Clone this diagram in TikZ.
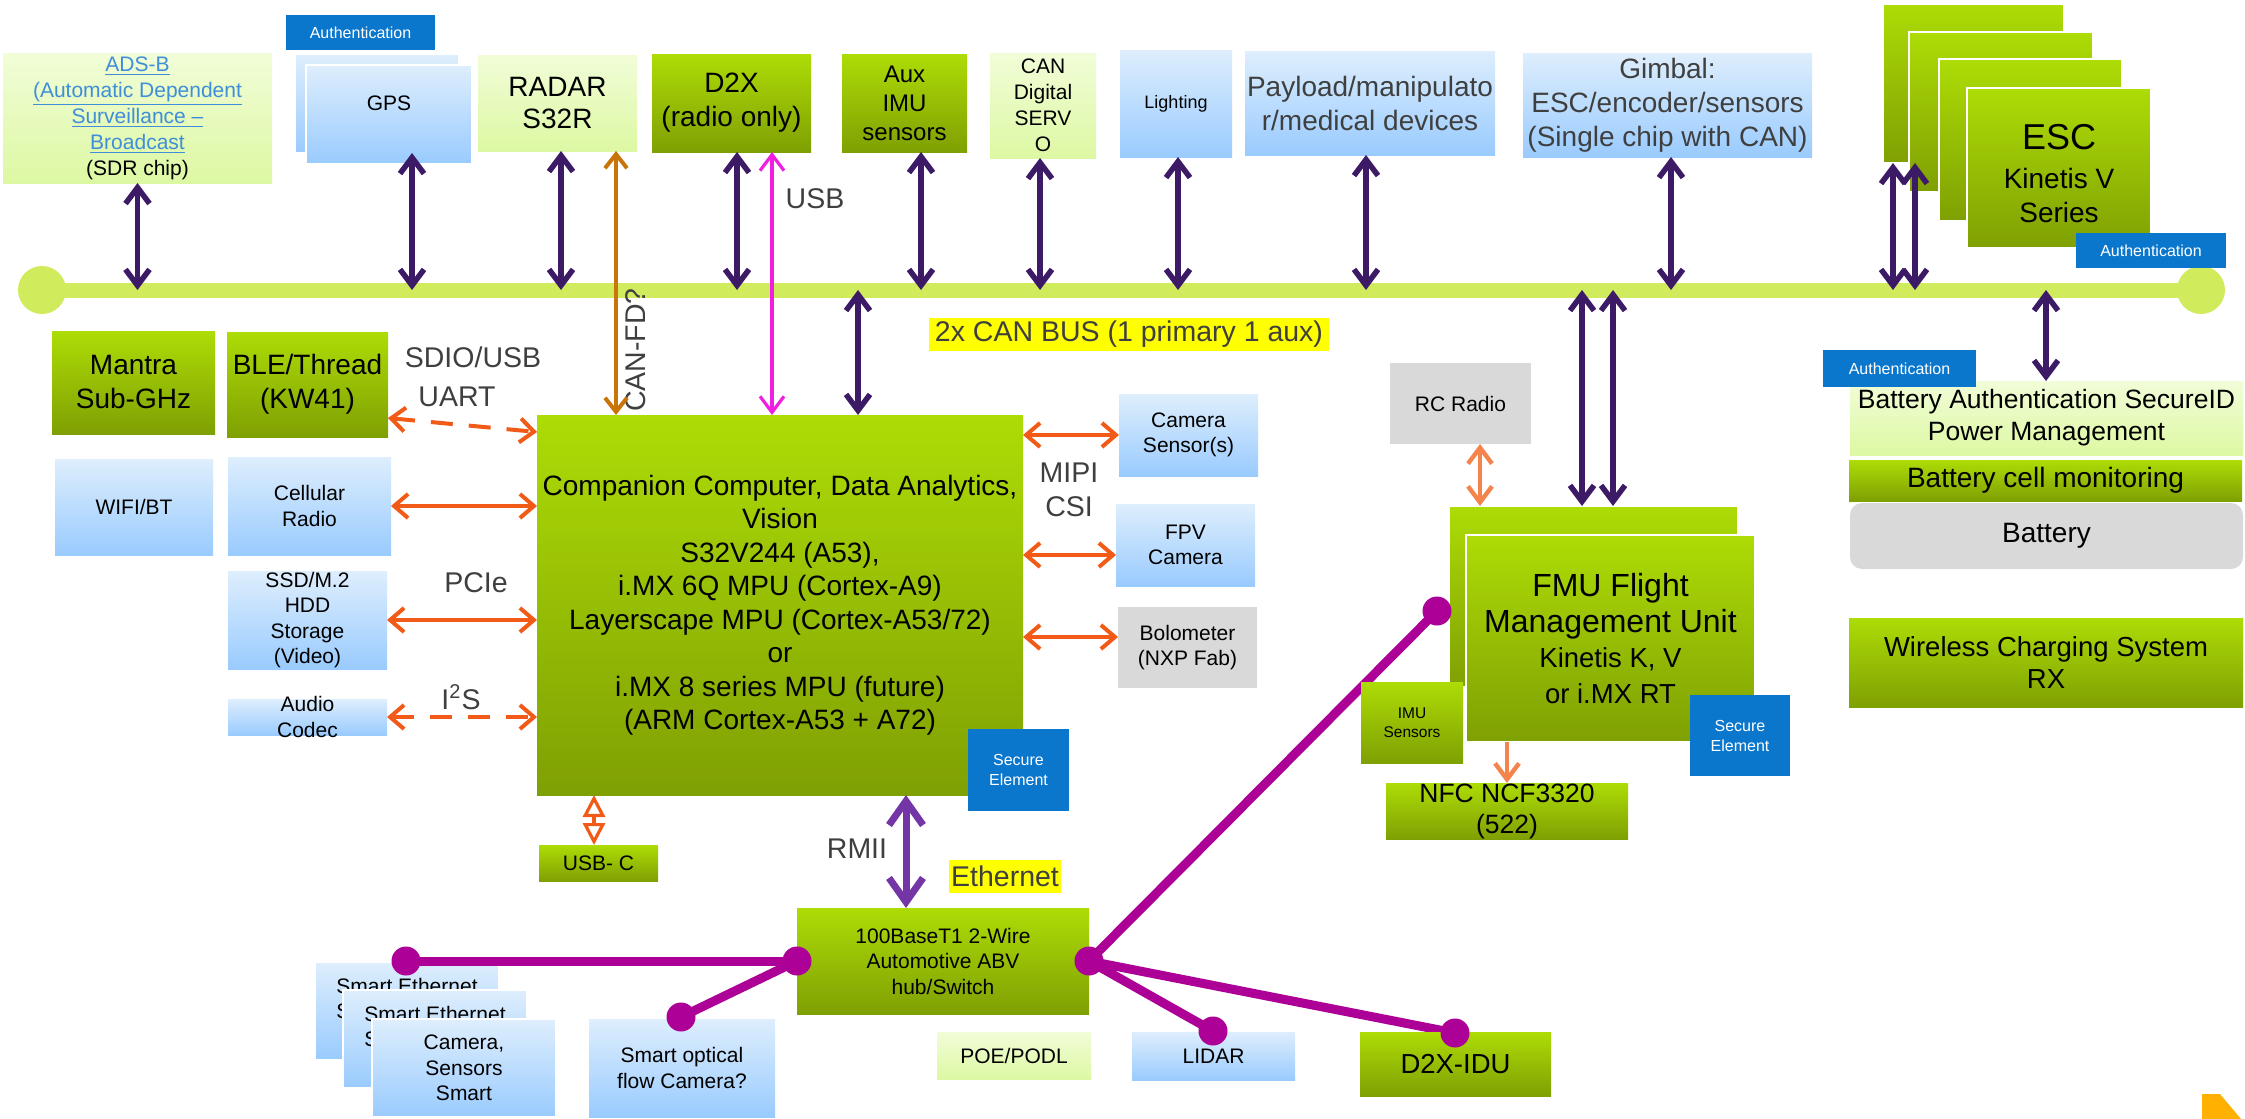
\documentclass[tikz,border=0pt]{standalone}
\usepackage{fontspec}
\setmainfont{Liberation Sans}
\usetikzlibrary{arrows.meta}
\pgfdeclarelayer{bg}
\pgfsetlayers{bg,main}
\definecolor{gTop}{HTML}{ADDC06}
\definecolor{gBot}{HTML}{7FA003}
\definecolor{pgTop}{HTML}{F1FDD8}
\definecolor{pgBot}{HTML}{DDF8A3}
\definecolor{bTop}{HTML}{DEEEFD}
\definecolor{bBot}{HTML}{99CBFE}
\definecolor{grayb}{HTML}{D9D9D9}
\definecolor{authc}{HTML}{0A77CD}
\definecolor{busc}{HTML}{D0EB5C}
\definecolor{purp}{HTML}{3C1A66}
\definecolor{oared}{HTML}{F25A17}
\definecolor{canfdc}{HTML}{C97408}
\definecolor{usbm}{HTML}{F01EE0}
\definecolor{rmiic}{HTML}{7435A6}
\definecolor{coral}{HTML}{F5844C}
\definecolor{ethc}{HTML}{AC0097}
\definecolor{linkc}{HTML}{3E8EDA}
\definecolor{tgray}{HTML}{3F3F3F}
\definecolor{yel}{HTML}{FFFF00}
\definecolor{logoc}{HTML}{FFB000}
\newcommand\lnkt[1]{\textcolor{linkc}{\underline{#1}}}
\newcommand\mkbox[8]{%
  \pgfmathsetmacro\bxw{(#6-#4)*0.5}%
  \pgfmathsetmacro\bxh{(#7-#5)*0.5}%
  \pgfmathsetmacro\bxx{(#4+#6)/2}%
  \pgfmathsetmacro\bxy{(#5+#7)/2}%
  \node[#2, minimum width=\bxw pt, minimum height=\bxh pt] (#1) at (\bxx,\bxy) {};
  \node[txt,#3] (#1t) at (#1.center) {#8};}
\tikzset{
  txt/.style={inner sep=0pt, outer sep=0pt, align=center, text=black},
  bx/.style={inner sep=0pt, outer sep=0pt, draw=none},
  gbox/.style={bx, top color=gTop, bottom color=gBot},
  pgbox/.style={bx, top color=pgTop, bottom color=pgBot},
  bbox/.style={bx, top color=bTop, bottom color=bBot},
  graybox/.style={bx, fill=grayb},
  authbox/.style={bx, fill=authc},
  ybox/.style={bx, fill=yel},
  wb/.style={draw=white, line width=1pt},
  fS/.style={font=\fontsize{10.5}{12.75}\selectfont},
  fSt/.style={font=\fontsize{10.5}{13}\selectfont},
  fXS/.style={font=\fontsize{9}{11}\selectfont},
  fM/.style={font=\fontsize{12}{14.5}\selectfont},
  fL/.style={font=\fontsize{14}{17}\selectfont},
  fLn/.style={font=\fontsize{14}{16}\selectfont},
  fC/.style={font=\fontsize{14}{16.75}\selectfont},
  fLab/.style={font=\fontsize{14.25}{17}\selectfont, text=tgray},
  fA/.style={font=\fontsize{8}{9.5}\selectfont, text=white},
  fSE/.style={font=\fontsize{8}{10}\selectfont, text=white},
  fIMU/.style={font=\fontsize{7.75}{9.5}\selectfont},
  fBA/.style={font=\fontsize{13.25}{16}\selectfont},
  fNFC/.style={font=\fontsize{13.25}{15.5}\selectfont},
  fFMU/.style={font=\fontsize{13.75}{17.75}\selectfont},
  fIDU/.style={font=\fontsize{13.75}{16}\selectfont},
  fW/.style={font=\fontsize{13.75}{16}\selectfont},
  lab/.style={inner sep=0pt, outer sep=0pt, fLab},
  pa/.style={draw=purp, line width=2.75pt, {Straight Barb[length=8pt,width=12pt]}-{Straight Barb[length=8pt,width=12pt]}},
  oa/.style={draw=oared, line width=2pt, {Straight Barb[length=7pt,width=12pt]}-{Straight Barb[length=7pt,width=12pt]}},
  oad/.style={oa, dash pattern=on 11pt off 8pt},
  cfa/.style={draw=canfdc, line width=2pt, {Straight Barb[length=7pt,width=11pt]}-{Straight Barb[length=7pt,width=11pt]}},
  usba/.style={draw=usbm, line width=1.6pt, {Straight Barb[length=8pt,width=12pt]}-{Straight Barb[length=8pt,width=12pt]}},
  rmiia/.style={draw=rmiic, line width=3.5pt, {Straight Barb[length=12pt,width=17pt]}-{Straight Barb[length=12pt,width=17pt]}},
  cra/.style={draw=coral, line width=2.2pt, {Straight Barb[length=8pt,width=12pt]}-{Straight Barb[length=8pt,width=12pt]}},
  crs/.style={draw=coral, line width=2.2pt, -{Straight Barb[length=8pt,width=12pt]}},
  usbca/.style={draw=oared, line width=1.6pt, {Triangle[open,length=11pt,width=11pt]}-{Triangle[open,length=11pt,width=11pt]}},
  eth/.style={draw=ethc, line width=4.5pt},
}
\begin{document}
\begin{tikzpicture}[x=0.5pt,y=-0.5pt]
\useasboundingbox (0,0) rectangle (2245,1119);
\begin{pgfonlayer}{bg}
\fill[white] (0,0) rectangle (2245,1119);
\end{pgfonlayer}

% CAN bus
\node[bx, fill=busc, minimum width=1079.5pt, minimum height=7.5pt] (bus) at (1121.5,290) {};
\fill[busc] (bus.west) circle (12pt);
\fill[busc] (bus.east) circle (12pt);

% top row
\mkbox{adsb}{pgbox}{fSt}{3}{53}{272}{183}{\lnkt{ADS-B}\\\lnkt{(Automatic Dependent}\\\lnkt{Surveillance –}\\\lnkt{Broadcast}\\(SDR chip)}
\mkbox{gpsb}{bbox,wb}{}{295}{54}{459}{153}{}
\mkbox{gps}{bbox,wb}{fS,yshift=5.5pt}{306}{65}{472}{164}{GPS}
\mkbox{authg}{authbox}{fA}{286}{15}{435}{50}{Authentication}
\mkbox{radar}{pgbox}{fLn}{478}{55}{637}{151}{RADAR\\S32R}
\mkbox{dtx}{gbox}{fL}{652}{54}{811}{152}{D2X\\(radio only)}
\mkbox{aux}{gbox}{fM}{842}{54}{967}{152}{Aux\\IMU\\sensors}
\mkbox{cands}{pgbox}{fSt}{990}{53}{1096}{158}{CAN\\Digital\\SERV\\O}
\mkbox{light}{bbox}{fXS}{1120}{50}{1232}{157}{Lighting}
\mkbox{payload}{bbox}{fL,text=tgray}{1245}{51}{1495}{155}{Payload/manipulato\\r/medical devices}
\mkbox{gimbal}{bbox}{fL,text=tgray}{1523}{53}{1812}{157}{Gimbal:\\ESC/encoder/sensors\\(Single chip with CAN)}
\mkbox{esc1}{gbox,wb}{}{1883}{4}{2064}{163}{}
\mkbox{esc2}{gbox,wb}{}{1909}{32}{2093}{192}{}
\mkbox{esc3}{gbox,wb}{}{1939}{59}{2122}{221}{}
\mkbox{esc4}{gbox,wb}{fL,yshift=-3pt}{1967}{88}{2151}{248}{{\fontsize{18}{21}\selectfont ESC}\\[2.5pt]Kinetis V\\Series}
\mkbox{authe}{authbox}{fA}{2076}{233}{2226}{268}{Authentication}
\mkbox{canl}{ybox}{fLab}{929}{318}{1329}{351}{2x CAN BUS (1 primary 1 aux)}

% left column
\mkbox{mantra}{gbox}{fL}{52}{331}{215}{434}{Mantra\\Sub-GHz}
\mkbox{ble}{gbox}{fL}{227}{332}{388}{437}{BLE/Thread\\(KW41)}
\mkbox{wifi}{bbox}{fS}{55}{459}{213}{555}{WIFI/BT}
\mkbox{cell}{bbox}{fS}{228}{457}{391}{555}{Cellular\\Radio}
\mkbox{ssd}{bbox}{fS}{228}{571}{387}{669}{SSD/M.2\\HDD\\Storage\\(Video)}
\mkbox{audio}{bbox}{fS}{228}{699}{387}{735}{Audio\\Codec}

% companion computer
\mkbox{comp}{gbox}{fC}{537}{415}{1023}{795}{Companion Computer, Data Analytics,\\Vision\\S32V244 (A53),\\i.MX 6Q MPU (Cortex-A9)\\Layerscape MPU (Cortex-A53/72)\\or\\i.MX 8 series MPU (future)\\(ARM Cortex-A53 + A72)}
\mkbox{secomp}{authbox}{fSE}{968}{729}{1069}{811}{Secure\\Element}
\mkbox{cam}{bbox}{fS}{1119}{394}{1258}{476}{Camera\\Sensor(s)}
\mkbox{fpv}{bbox}{fS}{1116}{504}{1255}{586}{FPV\\Camera}
\mkbox{bolo}{graybox}{fS}{1118}{607}{1257}{688}{Bolometer\\(NXP Fab)}
\mkbox{usbc}{gbox}{fS}{539}{845}{658}{881}{USB- C}

% ethernet
\mkbox{ethl}{ybox}{fLab}{949}{860}{1061}{893}{Ethernet}
\mkbox{sw}{gbox}{fS}{797}{908}{1089}{1014}{100BaseT1 2-Wire\\Automotive ABV\\hub/Switch}
\mkbox{se1}{bbox,wb}{fS,align=left}{315}{962}{499}{1060}{Smart Ethernet\\S\\\mbox{}}
\mkbox{se2}{bbox,wb}{fS,align=left}{343}{990}{527}{1088}{Smart Ethernet\\S\\\mbox{}}
\mkbox{se3}{bbox,wb}{fS}{372}{1019}{556}{1117}{Camera,\\Sensors\\Smart}
\mkbox{optflow}{bbox}{fS}{589}{1019}{775}{1117}{Smart optical\\flow Camera?}
\mkbox{poe}{pgbox}{fS}{937}{1032}{1091}{1079}{POE/PODL}
\mkbox{lidar}{bbox}{fS}{1132}{1032}{1295}{1080}{LIDAR}
\mkbox{dtxidu}{gbox}{fIDU}{1360}{1032}{1551}{1096}{D2X-IDU}

% FMU
\mkbox{rc}{graybox}{fS}{1390}{363}{1531}{444}{RC Radio}
\mkbox{fmub}{gbox,wb}{}{1449}{506}{1738}{687}{}
\mkbox{fmu}{gbox,wb}{fFMU}{1466}{535}{1755}{742}{{\fontsize{16}{19}\selectfont FMU Flight}\\{\fontsize{16}{19}\selectfont Management Unit}\\Kinetis K, V\\or i.MX RT}
\mkbox{imu}{gbox}{fIMU}{1361}{682}{1463}{763}{IMU\\Sensors}
\mkbox{sefmu}{authbox}{fSE}{1690}{695}{1790}{776}{Secure\\Element}
\mkbox{nfc}{gbox}{fNFC}{1386}{783}{1628}{839}{NFC NCF3320\\(522)}

% battery
\mkbox{battauth}{pgbox}{fBA}{1850}{381}{2243}{455}{Battery Authentication SecureID\\Power Management}
\mkbox{autht}{authbox}{fA}{1823}{350}{1976}{387}{Authentication}
\mkbox{cellmon}{gbox}{fL}{1849}{460}{2242}{501}{Battery cell monitoring}
\mkbox{batt}{graybox,rounded corners=6pt}{fL}{1850}{503}{2243}{569}{Battery}
\mkbox{wcs}{gbox}{fW}{1849}{618}{2243}{707}{Wireless Charging System\\RX}

% labels
\node[lab] (sdio) at (473,357) {SDIO/USB};
\node[lab] (uart) at (457,397) {UART};
\node[lab] (pcie) at (476,583) {PCIe};
\node[lab] (i2s) at (461,697) {I\textsuperscript{2}S};
\node[lab, align=center, font=\fontsize{14.25}{17}\selectfont] (mipi) at (1069,490) {MIPI\\CSI};
\node[lab] (usbl) at (815,199) {USB};
\node[lab] (rmii) at (857,849) {RMII};
\node[lab, rotate=90] (canfd) at (636,350) {CAN-FD?};

% bus arrows
\draw[pa] (adsb.south) -- (adsb.south |- bus.center);
\draw[pa] (412,0 |- gpsb.south) -- (412,0 |- bus.center);
\draw[pa] (561,0 |- radar.south) -- (561,0 |- bus.center);
\draw[pa] (737,0 |- dtx.south) -- (737,0 |- bus.center);
\draw[pa] (921,0 |- aux.south) -- (921,0 |- bus.center);
\draw[pa] (1040,0 |- cands.south) -- (1040,0 |- bus.center);
\draw[pa] (1178,0 |- light.south) -- (1178,0 |- bus.center);
\draw[pa] (1366,0 |- payload.south) -- (1366,0 |- bus.center);
\draw[pa] (1671,0 |- gimbal.south) -- (1671,0 |- bus.center);
\draw[pa] (1893,0 |- esc1.south) -- (1893,0 |- bus.center);
\draw[pa] (1915,0 |- esc1.south) -- (1915,0 |- bus.center);
\draw[pa] (858,0 |- bus.center) -- (858,0 |- comp.north);
\draw[pa] (1582,0 |- bus.center) -- (1582,0 |- fmub.north);
\draw[pa] (1613,0 |- bus.center) -- (1613,0 |- fmub.north);
\draw[pa] (2046,0 |- bus.center) -- (2046,0 |- battauth.north);
\draw[cfa] (616,0 |- radar.south) -- (616,0 |- comp.north);
\draw[usba] (772,0 |- dtx.south) -- (772,0 |- comp.north);

% companion links
\draw[oad] (ble.east |- 0,418) -- (comp.west |- 0,432);
\draw[oa] (cell.east) -- (cell.east -| comp.west);
\draw[oa] (ssd.east) -- (ssd.east -| comp.west);
\draw[oad] (audio.east) -- (audio.east -| comp.west);
\draw[oa] (comp.east |- cam.west) -- (cam.west);
\draw[oa] (comp.east |- 0,555) -- (fpv.west |- 0,555);
\draw[oa] (comp.east |- 0,637) -- (bolo.west |- 0,637);
\draw[usbca] (594,0 |- comp.south) -- (594,0 |- usbc.north);
\draw[rmiia] (906,0 |- comp.south) -- (906,0 |- sw.north);
\draw[cra] (1480,0 |- rc.south) -- (1480,0 |- fmub.north);
\draw[crs] (1507,0 |- fmu.south) -- (1507,0 |- nfc.north);

% ethernet links
\coordinate (dSE) at (406,961);
\coordinate (dOF) at (681,1017);
\coordinate (dFMU) at (1437,611);
\coordinate (dLID) at (1213,1031);
\coordinate (dIDU) at (1455,1033);
\begin{pgfonlayer}{bg}
\draw[eth] (sw.east) -- (dFMU);
\draw[eth] (sw.east) -- (dLID);
\draw[eth] (sw.east) -- (dIDU);
\draw[eth] (dOF) -- (sw.west);
\end{pgfonlayer}
\draw[eth] (dSE) -- (sw.west);
\foreach \d in {dSE,dOF,dFMU,dLID,dIDU} \fill[ethc] (\d) circle (7.25pt);
\fill[ethc] (sw.west) circle (7.25pt);
\fill[ethc] (sw.east) circle (7.25pt);

% corner mark
\fill[logoc] (2202,1094) -- (2220,1094) -- (2241,1119) -- (2202,1119) -- cycle;
\end{tikzpicture}
\end{document}
